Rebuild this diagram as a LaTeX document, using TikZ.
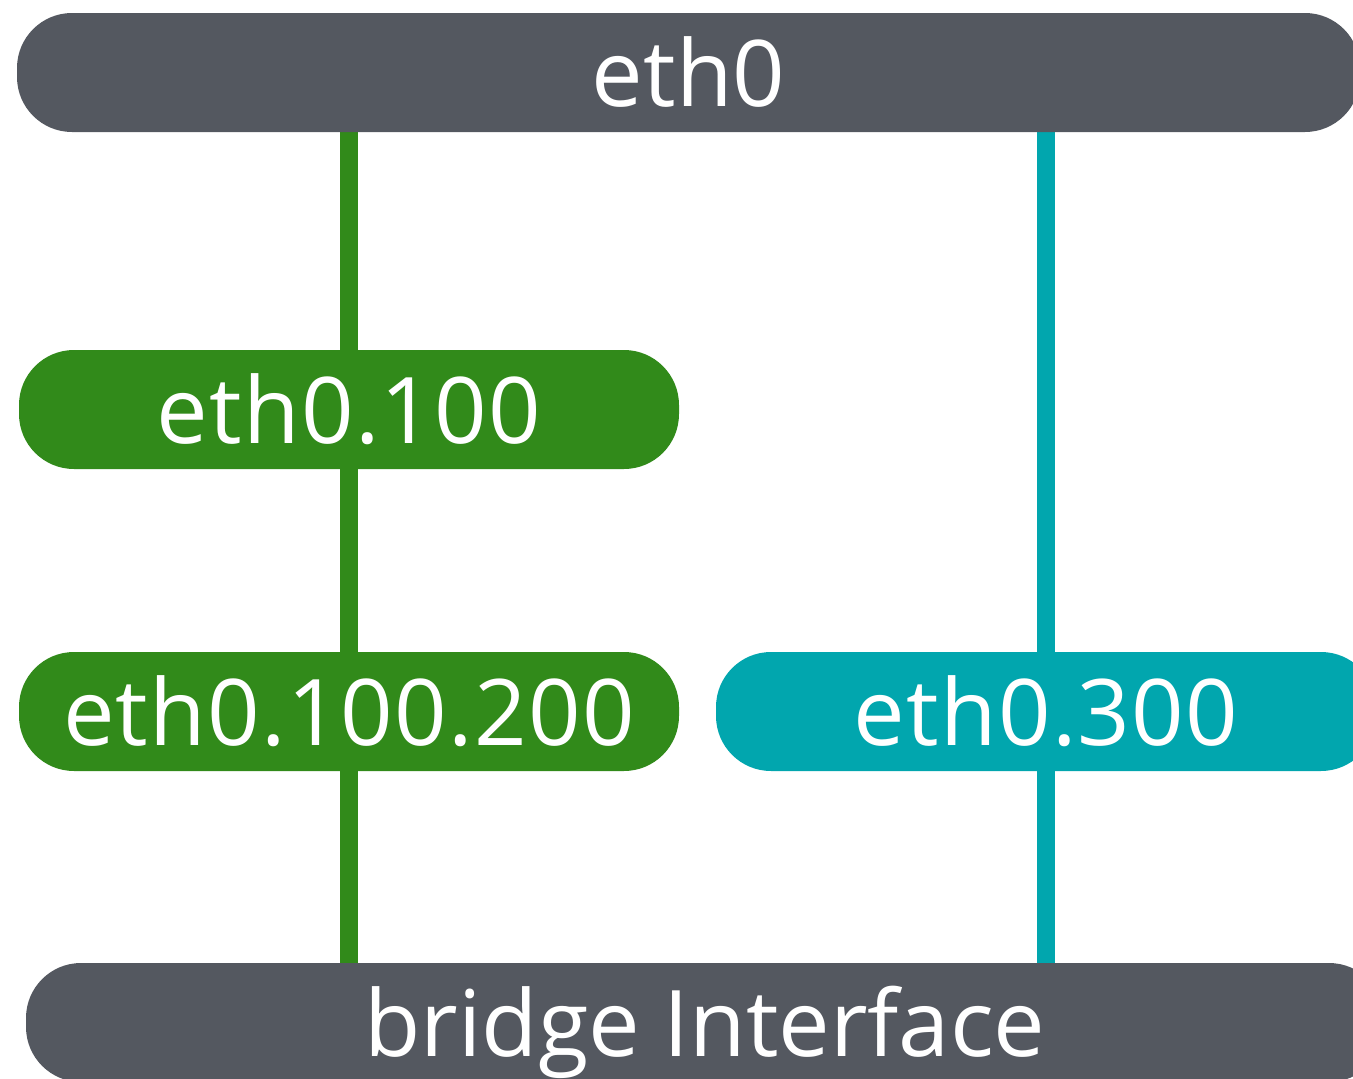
\documentclass[tikz,border=0pt]{standalone}
\usepackage{fontspec}
\setmainfont{Open Sans}
\usetikzlibrary{backgrounds}

\definecolor{slategrey}{RGB}{84,88,96}
\definecolor{vlangreen}{RGB}{49,138,26}
\definecolor{vlancyan}{RGB}{1,166,174}

\tikzset{
  iface/.style={rectangle, rounded corners=55pt, inner sep=0pt,
    minimum height=119pt, text=white, text height=68pt, text depth=0pt,
    font=\fontsize{92}{100}\selectfont},
  greybar/.style={iface, fill=slategrey},
  vlanbox/.style={iface, minimum width=660pt,
    font=\fontsize{92}{100}\selectfont\addfontfeatures{LetterSpace=1.4}},
  greenbox/.style={vlanbox, fill=vlangreen},
  cyanbox/.style={vlanbox, fill=vlancyan},
  greenlink/.style={draw=vlangreen, line width=18pt},
  cyanlink/.style={draw=vlancyan, line width=18pt}
}

\begin{document}
\begin{tikzpicture}[x=1pt, y=-1pt]
  \useasboundingbox (0,0) rectangle (1353,1079);
  \clip (0,0) rectangle (1353,1079);

  % interfaces
  \node[greybar, minimum width=1343pt] (eth0) at (688.5,72.5) {eth0};
  \node[greenbox] (v100) at (349,409.5) {eth0.100};
  \node[greenbox] (v100200) at (349,711.5) {eth0.100.200};
  \node[cyanbox] (v300) at (1046,711.5) {eth0.300};
  \node[greybar, minimum width=1358pt] (bridge) at (705,1022.5) {bridge Interface};

  % VLAN links, drawn behind the boxes
  \begin{pgfonlayer}{background}
    \draw[greenlink] (eth0.south -| v100.north) -- (v100.north);
    \draw[greenlink] (v100.south) -- (v100200.north);
    \draw[greenlink] (v100200.south) -- (v100200.south |- bridge.north);
    \draw[cyanlink] (eth0.south -| v300.north) -- (v300.north);
    \draw[cyanlink] (v300.south) -- (v300.south |- bridge.north);
  \end{pgfonlayer}
\end{tikzpicture}
\end{document}
